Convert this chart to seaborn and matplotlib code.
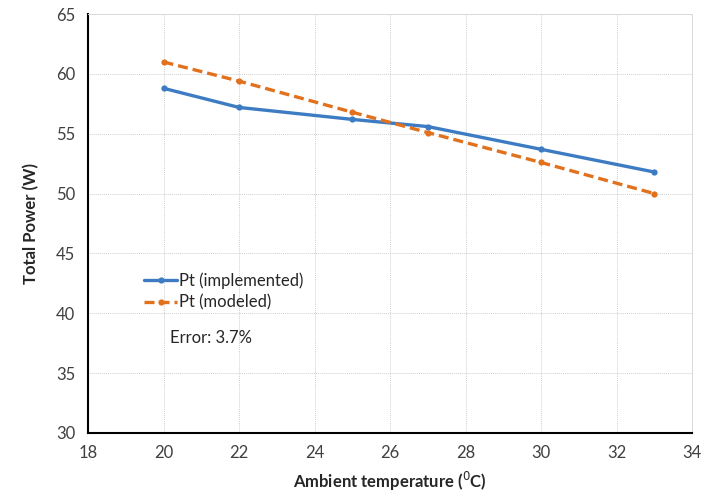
import matplotlib
matplotlib.use("Agg")
import matplotlib.pyplot as plt
import seaborn as sns
import pandas as pd

temps = [20, 22, 25, 27, 30, 33]
pt_implemented = [58.8, 57.2, 56.2, 55.6, 53.7, 51.8]
pt_modeled = [61.0, 59.4, 56.8, 55.1, 52.6, 50.0]
x_ticks = [18, 20, 22, 24, 26, 28, 30, 32, 34]
y_ticks = [30, 35, 40, 45, 50, 55, 60, 65]

sns.set_theme(style="white")
plt.rcParams['font.family'] = ['Lato', 'DejaVu Sans']

df = pd.DataFrame({
    "temp": temps * 2,
    "power": pt_implemented + pt_modeled,
    "series": ["Pt (implemented)"] * len(temps) + ["Pt (modeled)"] * len(temps),
})

fig = plt.figure(figsize=(7.01, 4.94), dpi=100)
ax = fig.add_axes([0.1255, 0.1235, 0.862, 0.848])

blue = "#3D7CC2"
orange = "#E2711D"
sns.lineplot(data=df, x="temp", y="power", hue="series", style="series",
             palette=[blue, orange], dashes=[(None, None), (3, 1.5)],
             markers=["o", "o"], markersize=4.5, markeredgewidth=0,
             linewidth=2.4, ax=ax)

ax.set_xlim(18, 34)
ax.set_ylim(30, 65)
ax.set_xticks(x_ticks)
ax.set_yticks(y_ticks)
ax.tick_params(axis="both", length=0, labelsize=12, labelcolor="#404040", pad=9)
ax.grid(True, color="#d0d0d0", linestyle=(0, (1, 1)), linewidth=0.7)

for side in ["top", "right"]:
    ax.spines[side].set_color("#d9d9d9")
    ax.spines[side].set_linestyle((0, (1, 1)))
    ax.spines[side].set_linewidth(0.7)
for side in ["left", "bottom"]:
    ax.spines[side].set_color("black")
    ax.spines[side].set_linewidth(1.5)

ax.plot(1, 0, ">k", markersize=4, transform=ax.get_yaxis_transform(), clip_on=False)
ax.plot(0, 1, "^k", markersize=4, transform=ax.get_xaxis_transform(), clip_on=False)

ax.set_xlabel("Ambient temperature ($^0$C)", fontsize=12, fontweight="bold", labelpad=6)
ax.set_ylabel("Total Power (W)", fontsize=12, fontweight="bold", labelpad=12)

leg = ax.legend(loc="upper left", bbox_to_anchor=(0.068, 0.42), frameon=False,
                fontsize=12, handlelength=2.0, handletextpad=0.1, labelspacing=0.35,
                title=None)
ax.text(0.136, 0.227, "Error: 3.7%", transform=ax.transAxes, fontsize=12,
        color="#262626", va="center")

fig.savefig("out.png", dpi=100)
